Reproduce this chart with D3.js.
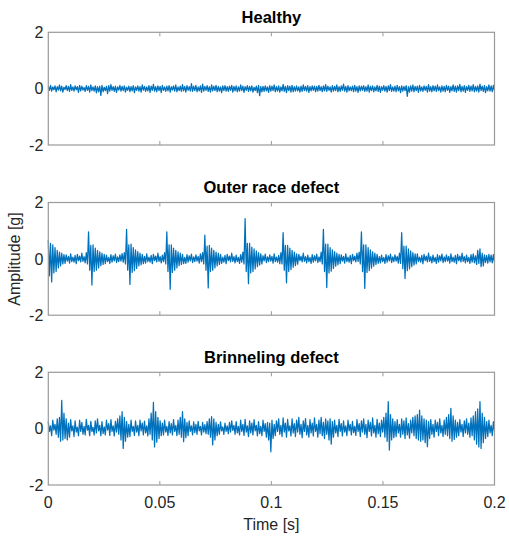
<!DOCTYPE html>
<html>
<head>
<meta charset="utf-8">
<script src="https://cdn.jsdelivr.net/npm/d3@7"></script>
<style>
  html, body { margin: 0; padding: 0; background: #fff; }
  svg { display: block; font-family: "Liberation Sans", Arial, sans-serif; }
</style>
</head>
<body>
<div id="chart"></div>
<script>
// vibration records, amplitude in hundredths of g
// (each ms shown as its upper then lower excursion)
const titles = ["Healthy", "Outer race defect", "Brinneling defect"];

const healthy = [
  8,-6,12,-9,6,-4,10,-11,7,-5,13,-8,9,-12,5,-3,11,-7,8,-10,14,-6,6,-9,10,-4,7,-13,12,-8,9,-5,4,-10,11,-6,8,-12,13,-7,
  6,-9,10,-15,7,-11,9,-24,12,-11,5,-7,8,-18,11,-9,14,-6,7,-10,9,-13,6,-5,12,-9,8,-7,10,-12,5,-6,9,-11,7,-8,11,-14,6,-6,
  10,-9,7,-12,13,-5,8,-10,6,-8,11,-13,9,-6,15,-9,7,-11,10,-7,8,-14,12,-6,6,-10,9,-8,11,-12,7,-5,10,-9,13,-11,6,-7,9,-10,
  14,-8,8,-12,11,-6,7,-9,18,-10,9,-7,12,-11,6,-8,10,-13,16,-9,8,-6,11,-10,7,-12,13,-8,9,-7,12,-11,8,-9,6,-14,10,-7,11,-9,
  7,-10,9,-6,12,-12,8,-8,10,-11,6,-9,13,-7,9,-13,7,-6,11,-10,8,-8,10,-12,5,-7,9,-14,12,-25,7,-11,8,-10,10,-8,6,-13,11,-9,
  9,-7,13,-11,7,-9,10,-12,6,-8,15,-10,8,-14,11,-7,9,-12,12,-11,7,-9,10,-8,6,-12,9,-10,13,-7,8,-9,11,-13,7,-8,10,-6,9,-11,
  8,-9,12,-7,7,-11,10,-8,14,-10,9,-6,6,-12,11,-9,8,-7,13,-11,7,-10,10,-6,16,-9,8,-12,11,-8,6,-7,9,-11,12,-9,7,-13,10,-8,
  9,-6,11,-10,7,-9,13,-12,8,-7,10,-11,6,-8,12,-10,9,-13,7,-6,11,-9,8,-12,10,-7,14,-10,6,-9,9,-11,12,-8,7,-14,10,-9,8,-7,
  11,-27,7,-12,10,-9,13,-11,8,-7,9,-13,12,-8,6,-10,10,-6,8,-12,14,-9,7,-11,11,-8,9,-10,13,-7,6,-12,10,-9,8,-11,12,-6,9,-13,
  7,-8,13,-10,9,-12,10,-7,15,-11,8,-9,11,-13,7,-6,12,-10,9,-8,14,-11,8,-9,10,-12,16,-7,9,-10,11,-14,7,-8,13,-9,10,-11,12,-8
];

const outerRace = [
  66,-60,55,-82,50,-50,40,-45,30,-32,24,-25,20,-18,15,-16,14,-8,9,-15,18,-10,6,-12,12,-17,16,-6,10,-11,20,-9,8,-14,22,-18,96,-40,48,-93,
  50,-45,38,-40,30,-32,25,-24,20,-20,16,-17,13,-10,5,-16,15,-12,11,-7,17,-13,7,-10,14,-8,19,-12,22,-18,105,-40,50,-91,52,-48,40,-42,32,-34,
  26,-25,20,-21,16,-17,9,-15,18,-10,6,-12,12,-17,16,-6,10,-11,20,-9,8,-14,13,-10,22,-18,96,-45,50,-108,50,-48,38,-40,30,-32,25,-24,20,-20,
  16,-17,5,-16,15,-12,11,-7,17,-13,7,-10,14,-8,9,-15,18,-10,22,-18,84,-40,45,-103,48,-45,38,-40,30,-32,24,-25,20,-20,16,-16,6,-12,12,-17,
  16,-6,10,-11,20,-9,8,-14,13,-10,5,-16,15,-12,24,-18,143,-45,55,-88,55,-50,42,-45,35,-36,28,-28,22,-22,18,-18,11,-7,17,-13,7,-10,14,-8,
  9,-15,18,-10,6,-12,12,-17,22,-18,93,-40,48,-85,48,-45,38,-38,30,-30,24,-24,18,-19,16,-6,10,-11,20,-9,8,-14,13,-10,5,-16,15,-12,11,-7,
  17,-13,7,-10,24,-18,105,-45,52,-102,52,-50,40,-44,32,-34,26,-26,20,-21,16,-17,14,-8,9,-15,18,-10,6,-12,12,-17,16,-6,10,-11,20,-9,24,-18,
  96,-45,50,-105,50,-48,40,-42,32,-33,25,-26,20,-20,16,-16,8,-14,13,-10,5,-16,15,-12,11,-7,17,-13,7,-10,14,-8,9,-15,20,-16,93,-35,45,-70,
  45,-42,35,-36,28,-28,22,-22,18,-18,18,-10,6,-12,12,-17,16,-6,10,-11,20,-9,8,-14,13,-10,5,-16,15,-12,11,-7,17,-13,7,-10,14,-8,9,-15,
  18,-10,6,-12,12,-17,16,-6,10,-11,20,-9,8,-14,13,-10,5,-16,15,-12,18,-14,11,-20,30,-16,35,-28,20,-25,14,-13,12,-15,16,-11,13,-14,15,-12
];

const brinneling = [
  25,-10,10,-25,30,-5,15,-20,35,-30,40,-45,100,-40,55,-35,35,-40,20,-30,32,-8,10,-28,28,-12,5,-25,30,-10,22,-20,8,-22,33,-5,12,-25,26,-10,
  5,-22,28,-15,35,-8,12,-25,25,-18,6,-22,30,-5,18,-24,32,-10,10,-26,26,-12,35,-20,45,-40,60,-70,40,-45,25,-30,15,-28,30,-10,8,-24,28,-12,
  12,-25,30,-8,20,-22,27,-15,10,-26,35,-20,55,-40,93,-65,60,-48,40,-35,28,-25,20,-22,30,-12,8,-24,25,-15,18,-22,32,-10,12,-25,30,-20,40,-30,
  60,-46,35,-32,22,-25,28,-10,10,-22,24,-14,15,-20,26,-8,8,-22,22,-12,14,-18,25,-20,35,-30,43,-58,35,-40,22,-25,15,-20,24,-8,6,-20,20,-10,
  10,-18,22,-12,28,-6,12,-20,25,-15,8,-22,30,-10,15,-24,33,-12,10,-28,28,-15,20,-22,32,-8,12,-26,25,-18,8,-25,30,-10,18,-30,22,-40,20,-82,
  30,-35,15,-25,28,-10,35,-20,12,-28,38,-12,20,-30,33,-8,10,-26,35,-15,18,-28,30,-12,40,-20,15,-32,28,-10,36,-22,12,-30,32,-15,20,-26,38,-10,
  15,-30,30,-18,40,-25,22,-35,35,-20,28,-40,35,-55,25,-30,30,-15,12,-28,33,-10,18,-26,28,-12,10,-25,30,-8,15,-22,26,-14,8,-24,32,-10,18,-28,
  28,-12,35,-20,15,-32,30,-10,22,-26,38,-15,12,-30,33,-18,20,-28,30,-12,40,-30,55,-45,96,-76,50,-40,35,-32,25,-28,32,-15,15,-30,35,-20,28,-35,
  38,-22,18,-34,30,-15,40,-25,45,-35,50,-40,66,-45,45,-40,35,-50,30,-64,25,-35,32,-20,15,-30,30,-10,22,-25,35,-15,12,-28,30,-20,40,-25,50,-35,
  72,-45,45,-38,30,-30,22,-25,32,-12,15,-28,28,-15,35,-20,20,-30,38,-25,45,-40,60,-55,70,-65,96,-70,55,-50,40,-35,25,-28,30,-15,12,-25,25,-10
];

const series = [healthy, outerRace, brinneling];
const duration = 0.2;            // record length, s
const xTicks = [0, 0.05, 0.1, 0.15, 0.2];
const yTicks = [-2, 0, 2];

const width = 509, height = 538;
const left = 48.3, right = 494.5;
const panelTops = [32.3, 202.5, 372.3];
const panelH = 112.7;
const textColor = "#262626";
const boxColor = "#9a9a9a";

const svg = d3.select("#chart").append("svg")
    .attr("width", width)
    .attr("height", height);

const x = d3.scaleLinear().domain([0, duration]).range([left, right]);

series.forEach((vals, k) => {
    const top = panelTops[k];
    const y = d3.scaleLinear().domain([-2, 2]).range([top + panelH, top]);
    const step = duration / (vals.length - 1);
    const pts = vals.map((v, i) => [i * step, v / 100]);

    const g = svg.append("g");

    g.append("path")
        .datum(pts)
        .attr("fill", "none")
        .attr("stroke", "#0072BD")
        .attr("stroke-width", 1.25)
        .attr("stroke-linejoin", "round")
        .attr("d", d3.line().x(d => x(d[0])).y(d => y(d[1])));

    // box and inward ticks
    g.append("rect")
        .attr("x", left).attr("y", top)
        .attr("width", right - left).attr("height", panelH)
        .attr("fill", "none")
        .attr("stroke", boxColor)
        .attr("stroke-width", 1.2);

    xTicks.slice(1, -1).forEach(t => {
        g.append("line").attr("x1", x(t)).attr("x2", x(t))
            .attr("y1", top).attr("y2", top + 4)
            .attr("stroke", boxColor).attr("stroke-width", 1);
        g.append("line").attr("x1", x(t)).attr("x2", x(t))
            .attr("y1", top + panelH).attr("y2", top + panelH - 4)
            .attr("stroke", boxColor).attr("stroke-width", 1);
    });

    g.selectAll("text.ytick")
        .data(yTicks)
        .join("text")
        .attr("class", "ytick")
        .attr("x", left - 5)
        .attr("y", d => y(d))
        .attr("dy", "0.36em")
        .attr("text-anchor", "end")
        .attr("fill", textColor)
        .style("font-size", "16px")
        .text(d => d);

    g.append("text")
        .attr("x", (left + right) / 2)
        .attr("y", top - 9.7)
        .attr("text-anchor", "middle")
        .attr("fill", "#000")
        .style("font-size", "16.5px")
        .style("font-weight", "bold")
        .text(titles[k]);
});

// x tick labels under the last panel
svg.selectAll("text.xtick")
    .data(xTicks)
    .join("text")
    .attr("class", "xtick")
    .attr("x", d => x(d))
    .attr("y", 507.5)
    .attr("text-anchor", "middle")
    .attr("fill", textColor)
    .style("font-size", "16px")
    .text(d => d);

svg.append("text")
    .attr("x", (left + right) / 2)
    .attr("y", 530)
    .attr("text-anchor", "middle")
    .attr("fill", textColor)
    .style("font-size", "16px")
    .text("Time [s]");

svg.append("text")
    .attr("transform", `translate(20,259) rotate(-90)`)
    .attr("text-anchor", "middle")
    .attr("fill", textColor)
    .style("font-size", "16px")
    .text("Amplitude [g]");
</script>
</body>
</html>
